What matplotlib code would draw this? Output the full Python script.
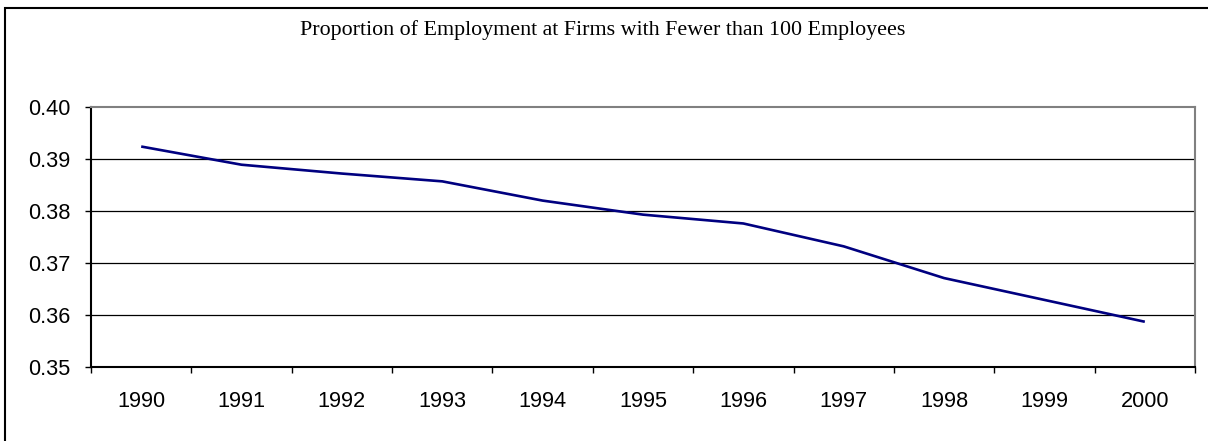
import matplotlib
matplotlib.use("Agg")
import matplotlib.pyplot as plt
from matplotlib.patches import Rectangle
import numpy as np

years = ["1990", "1991", "1992", "1993", "1994", "1995", "1996", "1997", "1998", "1999", "2000"]
share = [0.3924, 0.3889, 0.3872, 0.3857, 0.3820, 0.3793, 0.3776, 0.3732, 0.3671, 0.3629, 0.3587]
yticks = [0.35, 0.36, 0.37, 0.38, 0.39, 0.40]
title = "Proportion of Employment at Firms with Fewer than 100 Employees"

W, H = 1208, 441
fig = plt.figure(figsize=(W / 100, H / 100), dpi=100)
fig.patch.set_facecolor("white")

# outer chart border (cut at right/bottom like the reference)
fig.patches.append(Rectangle((5 / W, -0.05), 1.2, (H - 7.5) / H + 0.05,
                             transform=fig.transFigure, fill=False,
                             edgecolor="black", linewidth=1.5))

ax = fig.add_axes([91 / W, (H - 367) / H, (1195 - 91) / W, (367 - 107) / H])
x = np.arange(len(years))
ax.plot(x, share, color="#000080", linewidth=1.9, solid_capstyle="butt", zorder=3)

ax.set_xlim(-0.5, len(years) - 0.5)
ax.set_ylim(0.35, 0.40)
ax.set_yticks(yticks)
ax.set_yticklabels([f"{v:.2f}" for v in yticks], family="Liberation Sans", fontsize=15.7)
ax.set_xticks(x)
ax.set_xticklabels(years, family="Liberation Sans", fontsize=15.7)
ax.set_xticks(np.arange(-0.5, len(years)), minor=True)
ax.tick_params(axis="x", which="major", length=0, pad=17)
ax.tick_params(axis="x", which="minor", length=4.5, width=1, color="black", direction="out")
ax.tick_params(axis="y", length=4.5, width=1, color="black", direction="out", pad=10)

for v in yticks[1:-1]:
    ax.axhline(v, color="black", linewidth=0.9, zorder=1)

ax.spines["left"].set_color("black")
ax.spines["bottom"].set_color("black")
ax.spines["top"].set_color("#808080")
ax.spines["right"].set_color("#808080")
for s in ax.spines.values():
    s.set_linewidth(1.5)

fig.text(603 / W, 1 - 30 / H, title, ha="center", va="center",
         family="Liberation Serif", fontsize=15.8)

fig.savefig("out.png", dpi=100, facecolor="white")
